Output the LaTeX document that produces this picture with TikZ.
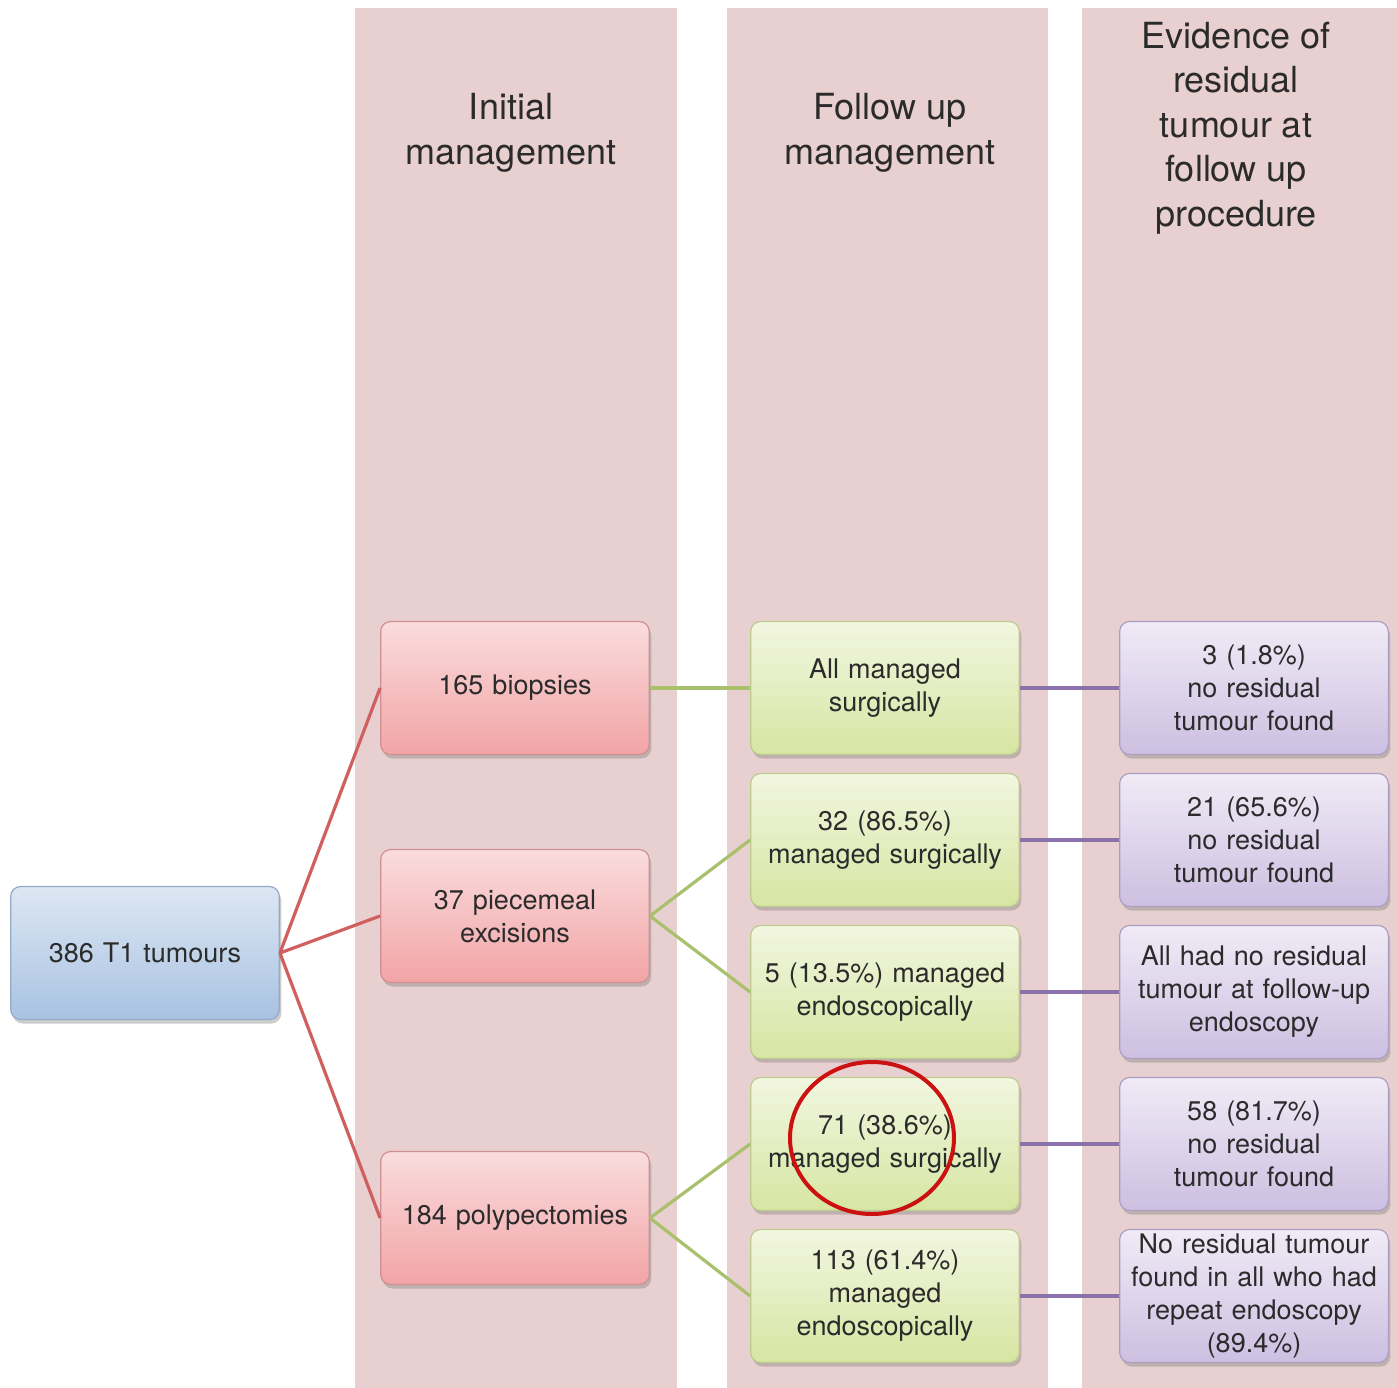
\documentclass[tikz,border=0pt]{standalone}
\usepackage{fontspec}
\setmainfont{TeX Gyre Heros}
\usetikzlibrary{shadows,shapes.geometric}
\definecolor{band}{HTML}{E9D0D0}
\definecolor{txt}{HTML}{2B2B2B}
\definecolor{redline}{HTML}{D0605F}
\definecolor{greenline}{HTML}{A9C06C}
\definecolor{purpleline}{HTML}{8B72A8}
\definecolor{circ}{HTML}{CC1111}
\definecolor{bluebd}{HTML}{93ABC9}
\definecolor{bluet}{HTML}{DDE7F3}
\definecolor{blueb}{HTML}{A8C2E2}
\definecolor{redbd}{HTML}{CF9092}
\definecolor{redt}{HTML}{FADCDD}
\definecolor{redb}{HTML}{F2A4A6}
\definecolor{greenbd}{HTML}{BCCA8E}
\definecolor{greent}{HTML}{F2F6E0}
\definecolor{greenb}{HTML}{D6E6A2}
\definecolor{purplebd}{HTML}{AC9EC2}
\definecolor{purplet}{HTML}{F0EBF6}
\definecolor{purpleb}{HTML}{CDBFE1}
\tikzset{
  box/.style={rectangle, rounded corners=10pt, minimum width=266pt, minimum height=133pt,
    text width=262pt, align=center, text=txt, line width=1.2pt,
    font=\fontsize{27}{33}\selectfont,
    drop shadow={opacity=0.4, shadow xshift=2pt, shadow yshift=-4pt}},
  bluebox/.style={box, draw=bluebd, top color=bluet, bottom color=blueb},
  redbox/.style={box, draw=redbd, top color=redt, bottom color=redb},
  greenbox/.style={box, draw=greenbd, top color=greent, bottom color=greenb},
  purplebox/.style={box, draw=purplebd, top color=purplet, bottom color=purpleb},
  head/.style={align=center, text=txt, font=\fontsize{36}{44.5}\selectfont},
  redconn/.style={draw=redline, line width=3.2pt},
  greenconn/.style={draw=greenline, line width=3.2pt},
  purpleconn/.style={draw=purpleline, line width=4pt},
}
\begin{document}
\begin{tikzpicture}[x=1pt,y=-1pt]
\useasboundingbox (0,0) rectangle (1397,1388);
\fill[white] (0,0) rectangle (1397,1388);
% bands
\fill[band] (355,8) rectangle (677,1388);
\fill[band] (727,8) rectangle (1048,1388);
\fill[band] (1082,8) rectangle (1397,1388);
% headers
\node[head] (h1) at (511,133) {Initial\\management};
\node[head] (h2) at (890,133) {Follow up\\management};
\node[head] (h3) at (1236,128) {Evidence of\\residual\\tumour at\\follow up\\procedure};
% nodes
\node[bluebox] (root) at (145,953) {386 T1 tumours};
\node[redbox] (bio) at (515,688) {165 biopsies};
\node[redbox] (pie) at (515,916) {37 piecemeal\\excisions};
\node[redbox] (pol) at (515,1218) {184 polypectomies};
\node[greenbox] (g1) at (885,688) {All managed\\surgically};
\node[greenbox] (g2) at (885,840) {32 (86.5\%)\\managed surgically};
\node[greenbox] (g3) at (885,992) {5 (13.5\%) managed\\endoscopically};
\node[greenbox] (g4) at (885,1144) {71 (38.6\%)\\managed surgically};
\node[greenbox] (g5) at (885,1296) {113 (61.4\%)\\managed\\endoscopically};
\node[purplebox] (p1) at (1254,688) {3 (1.8\%)\\no residual\\tumour found};
\node[purplebox] (p2) at (1254,840) {21 (65.6\%)\\no residual\\tumour found};
\node[purplebox] (p3) at (1254,992) {All had no residual\\tumour at follow-up\\endoscopy};
\node[purplebox] (p4) at (1254,1144) {58 (81.7\%)\\no residual\\tumour found};
\node[purplebox] (p5) at (1254,1296) {No residual tumour\\found in all who had\\repeat endoscopy\\(89.4\%)};
% connectors
\draw[redconn] (root.east) -- (bio.west);
\draw[redconn] (root.east) -- (pie.west);
\draw[redconn] (root.east) -- (pol.west);
\draw[greenconn] (bio.east) -- (g1.west);
\draw[greenconn] (pie.east) -- (g2.west);
\draw[greenconn] (pie.east) -- (g3.west);
\draw[greenconn] (pol.east) -- (g4.west);
\draw[greenconn] (pol.east) -- (g5.west);
\draw[purpleconn] (g1.east) -- (p1.west);
\draw[purpleconn] (g2.east) -- (p2.west);
\draw[purpleconn] (g3.east) -- (p3.west);
\draw[purpleconn] (g4.east) -- (p4.west);
\draw[purpleconn] (g5.east) -- (p5.west);
% highlight circle
\node[ellipse, draw=circ, line width=4pt, minimum width=164pt, minimum height=152pt] (hl) at (872,1138) {};
\end{tikzpicture}
\end{document}
